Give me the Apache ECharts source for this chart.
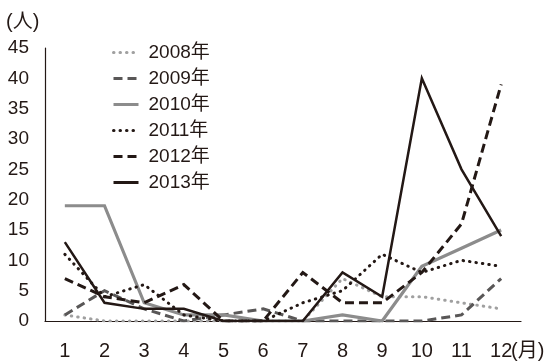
<!DOCTYPE html>
<html><head><meta charset="utf-8">
<script src="https://cdn.jsdelivr.net/npm/echarts@6/dist/echarts.min.js"></script>
<style>html,body{margin:0;padding:0;background:#fff}#c{width:548px;height:361px}</style>
</head><body><div id="c"></div>
<script>
const months = ['1','2','3','4','5','6','7','8','9','10','11','12'];
const yTicks = [0,5,10,15,20,25,30,35,40,45];
const y2008 = [1,0,0,0,0,0,0,7,4,4,3,2];
const y2009 = [1,5,2,0,1,2,0,0,0,0,1,7];
const y2010 = [19,19,3,1,1,0,0,1,0,9,12,15];
const y2011 = [11,4,6,1,0,0,3,5,11,8,10,9];
const y2012 = [7,4,3,6,0,0,8,3,3,8,16,39];
const y2013 = [13,3,2,2,0,0,0,8,4,40,25,14];
const seriesNames = ['2008年','2009年','2010年','2011年','2012年','2013年'];

const FONT = '"Liberation Sans", "Noto Sans CJK JP", sans-serif';
const BLACK = '#231815';
const styles = [
  {color:'#a0a0a0', width:3, type:[0.5,6], cap:'round'},
  {color:'#595757', width:3, type:[9,5], cap:'butt'},
  {color:'#8c8c8c', width:3.2, type:'solid', cap:'butt'},
  {color:BLACK, width:3, type:[0.5,6], cap:'round'},
  {color:BLACK, width:3, type:[9,5], cap:'butt'},
  {color:BLACK, width:2.5, type:'solid', cap:'butt'}
];
const data = [y2008,y2009,y2010,y2011,y2012,y2013];

const chart = echarts.init(document.getElementById('c'), null, {renderer:'canvas'});
chart.setOption({
  animation:false,
  textStyle:{fontFamily:FONT},
  grid:{left:45, right:27, top:48, bottom:37, containLabel:false},
  legend:{
    orient:'vertical', left:107, top:38, itemWidth:25, itemHeight:14, itemGap:7,
    itemStyle:{opacity:0},
    lineStyle:{width:3},
    textStyle:{fontSize:19, color:BLACK, fontFamily:FONT, padding:[0,0,0,5]},
    data: seriesNames
  },
  xAxis:{
    type:'category', data:months, boundaryGap:true,
    axisLine:{lineStyle:{color:BLACK, width:1.2}},
    axisTick:{show:false},
    axisLabel:{color:BLACK, fontSize:20, margin:20, fontFamily:FONT}
  },
  yAxis:{
    type:'value', min:0, max:45, interval:5,
    axisLine:{show:true, lineStyle:{color:BLACK, width:1.2}},
    axisTick:{show:false},
    splitLine:{show:false},
    axisLabel:{color:BLACK, fontSize:19, margin:16, fontFamily:FONT,
      formatter:function(v){return yTicks.indexOf(v)>=0 ? String(v) : '';}}
  },
  graphic:[
    {type:'text', left:6, top:12, style:{text:'(人)', fontSize:20, fill:BLACK, fontFamily:FONT}},
    {type:'text', left:511, top:341, style:{text:'(月)', fontSize:20, fill:BLACK, fontFamily:FONT}}
  ],
  series: seriesNames.map((n,i)=>({
    name:n, type:'line', data:data[i], symbol:'none', showSymbol:false,
    lineStyle:{color:styles[i].color, width:styles[i].width, type:styles[i].type, cap:styles[i].cap, join:'miter'},
    itemStyle:{color:styles[i].color},
    emphasis:{disabled:true}
  }))
});
</script></body></html>
